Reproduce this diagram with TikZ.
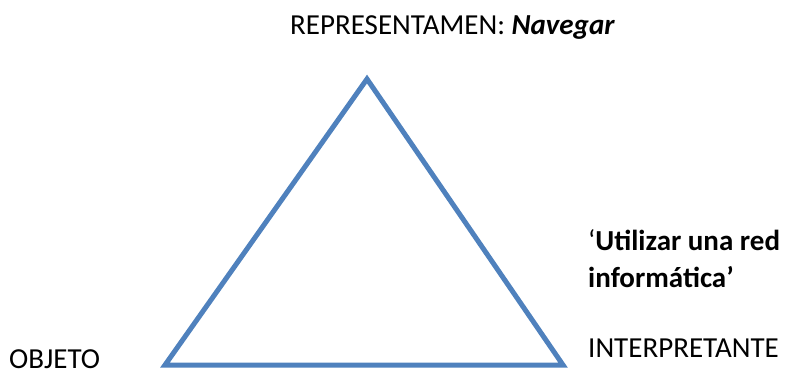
\documentclass[tikz,border=0pt]{standalone}
\usepackage{fontspec}
\setmainfont{Carlito}
\usetikzlibrary{positioning}
\definecolor{officeblue}{RGB}{79,129,189}
\tikzset{
  side/.style={draw=officeblue, line width=5pt, line join=miter},
  label/.style={font=\fontsize{29}{35}\selectfont, inner sep=0pt, anchor=base west},
}

\begin{document}
\begin{tikzpicture}[x=1pt,y=-1pt]
  \useasboundingbox (0,0) rectangle (787,372);
  % vertices of the triangle
  \coordinate (apex) at (367,79);
  \coordinate (objv) at (165,365);
  \coordinate (intv) at (563,365);
  \draw[side] (apex) -- (intv) -- (objv) -- cycle;
  \node[label] (repr) at (290,34) {REPRESENTAMEN: \textbf{\textit{Navegar}}};
  \node[label] (mean1) at (588,250) {`\textbf{Utilizar una red}};
  \node[label] (mean2) at (588,287) {\textbf{informática'}};
  \node[label] (interp) at (588,357) {INTERPRETANTE};
  \node[label] (obj) at (9,368.5) {OBJETO};
\end{tikzpicture}
\end{document}
